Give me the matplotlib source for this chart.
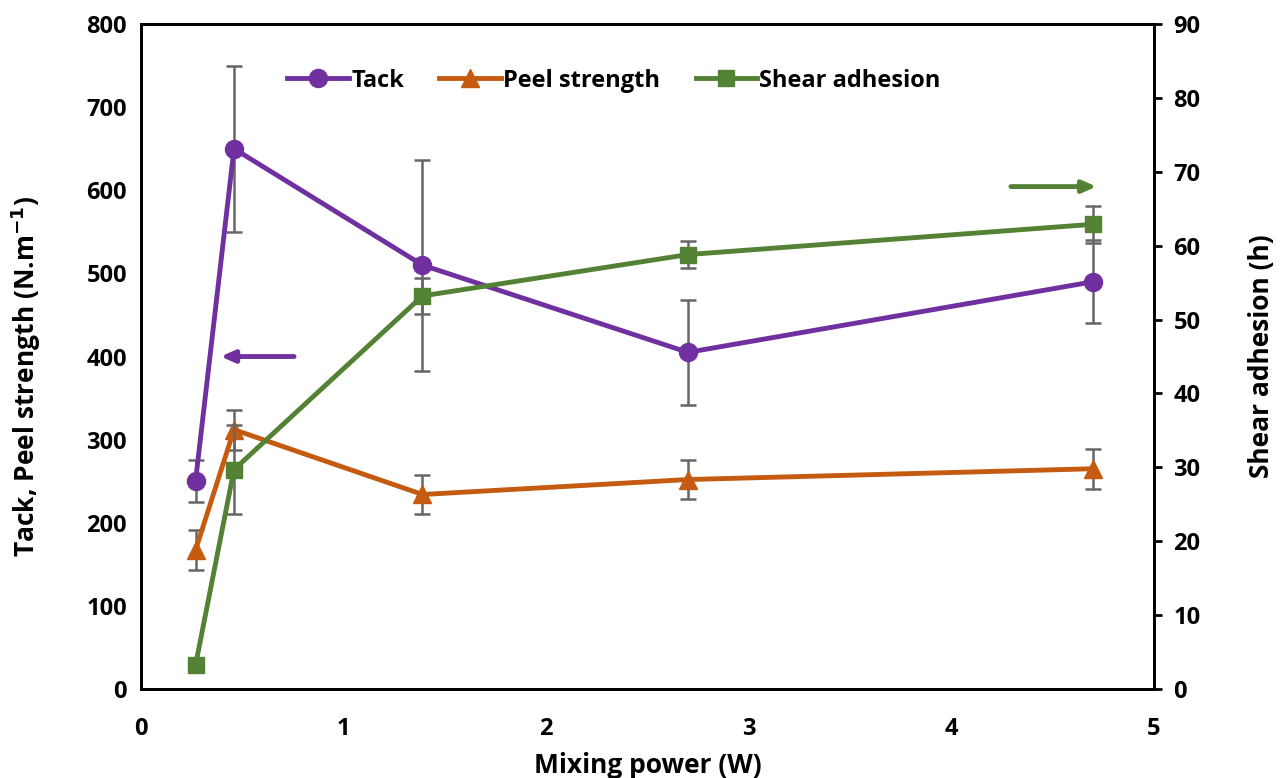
import numpy as np
import matplotlib.pyplot as plt

plt.rcParams['font.family'] = ['Open Sans', 'DejaVu Sans']
plt.rcParams['font.weight'] = 'bold'
plt.rcParams['mathtext.default'] = 'bf'

# data
power = [0.27, 0.46, 1.39, 2.70, 4.70]
tack = [250, 650, 510, 405, 490]
tack_err = [25, 100, 127, 63, 50]
peel = [167, 312, 234, 252, 265]
peel_err = [24, 24, 24, 24, 24]
shear = [3.2, 29.7, 53.2, 58.8, 62.9]
shear_err = [0, 6.0, 2.4, 1.8, 2.5]

c_tack = '#7030A0'
c_peel = '#C55A11'
c_shear = '#548235'
c_err = '#666666'

fig = plt.figure(figsize=(12.8, 7.78), dpi=100)
ax = fig.add_axes([0.110, 0.1144, 0.7916, 0.8547])
ax2 = ax.twinx()

ax.errorbar(power, tack, yerr=tack_err, fmt='none', ecolor=c_err, elinewidth=1.8, capsize=6, capthick=1.8, zorder=2)
ax.errorbar(power, peel, yerr=peel_err, fmt='none', ecolor=c_err, elinewidth=1.8, capsize=6, capthick=1.8, zorder=2)
l1, = ax.plot(power, tack, color=c_tack, lw=3.5, marker='o', ms=13, label='Tack', zorder=3)
l2, = ax.plot(power, peel, color=c_peel, lw=3.5, marker='^', ms=13, label='Peel strength', zorder=3)

ax2.errorbar(power, shear, yerr=shear_err, fmt='none', ecolor=c_err, elinewidth=1.8, capsize=6, capthick=1.8, zorder=2)
l3, = ax2.plot(power, shear, color=c_shear, lw=3.5, marker='s', ms=12, label='Shear adhesion', zorder=3)

ax.set_xlim(0, 5)
ax.set_ylim(0, 800)
ax2.set_ylim(0, 90)
ax.set_yticks(np.arange(0, 801, 100))
ax2.set_yticks(np.arange(0, 91, 10))
ax.set_xticks(np.arange(0, 6, 1))

ax.tick_params(axis='x', length=0, labelsize=17, pad=20)
ax.tick_params(axis='y', length=0, labelsize=17, pad=10)
ax2.tick_params(axis='y', length=6, width=2, direction='out', labelsize=17, pad=8)
for t in ax.get_xticklabels() + ax.get_yticklabels() + ax2.get_yticklabels():
    t.set_fontweight('bold')

for a in (ax, ax2):
    for s in a.spines.values():
        s.set_linewidth(2)
        s.set_color('black')

ax.set_xlabel('Mixing power (W)', fontsize=19, fontweight='bold', labelpad=8)
ax.set_ylabel('Tack, Peel strength (N.m$^{-1}$)', fontsize=19, fontweight='bold')
ax.yaxis.set_label_coords(-0.097, 0.47)
ax2.set_ylabel('Shear adhesion (h)', fontsize=19, fontweight='bold', labelpad=34)

# arrows pointing to the axes
ax.annotate('', xy=(0.38, 400), xytext=(0.77, 400),
            arrowprops=dict(arrowstyle='-|>,head_length=0.8,head_width=0.35', color=c_tack, lw=3.5))
ax2.annotate('', xy=(4.73, 68), xytext=(4.28, 68),
             arrowprops=dict(arrowstyle='-|>,head_length=0.8,head_width=0.35', color=c_shear, lw=3.5))

leg = ax.legend(handles=[l1, l2, l3], loc='upper center', bbox_to_anchor=(0.467, 0.965), ncol=3,
                frameon=False, fontsize=17, handlelength=2.6, handletextpad=0.1, columnspacing=1.5)
for t in leg.get_texts():
    t.set_fontweight('bold')

fig.savefig('out.png', dpi=100)
